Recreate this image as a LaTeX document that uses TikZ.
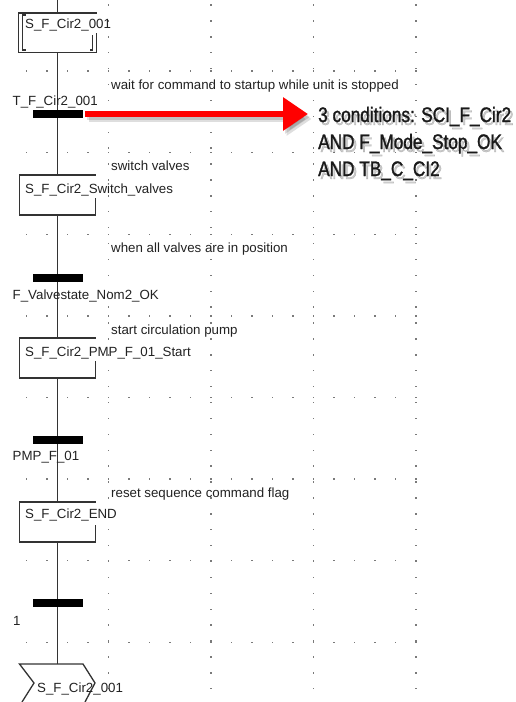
\documentclass[tikz,border=0pt]{standalone}
\usepackage{fontspec}
\setmainfont{Liberation Sans}
\newfontfamily\narrowfont[FakeStretch=0.82,FakeBold=1.3]{Liberation Sans}
\usetikzlibrary{arrows.meta}
\definecolor{linec}{HTML}{333333}
\definecolor{txtc}{HTML}{222222}
\definecolor{dotc}{HTML}{7A7A7A}
\definecolor{arrred}{HTML}{FF0000}
\begin{document}
\begin{tikzpicture}[x=1pt,y=-1pt,
  flow/.style={draw=linec, line width=1.4pt},
  boxline/.style={draw=linec, line width=1.3pt},
  stepbox/.style={draw=none, minimum width=76pt, minimum height=40pt, inner sep=0pt, outer sep=0pt},
  bar/.style={fill=black, minimum width=50pt, minimum height=7.5pt, inner sep=0pt, outer sep=0pt},
  lbl/.style={font=\fontsize{13.3}{15}\selectfont, text=txtc, inner sep=0pt, anchor=base west},
  bigtxt/.style={font=\narrowfont\fontsize{21}{27}\selectfont, text=black!90, inner sep=0pt, anchor=base west},
  bigshadow/.style={bigtxt, text=black, opacity=0.2},
  redarr/.style={draw=arrred, line width=6.5pt, -{Triangle[length=25pt,width=32pt]}},
  shadowarr/.style={draw=black, opacity=0.13, line width=6.5pt, -{Triangle[length=25pt,width=32pt]}}
]
\useasboundingbox (0,0) rectangle (516,702);
\fill[white] (0,0) rectangle (516,702);

% dot grid
\foreach \r in {0,...,7}
  \foreach \c in {0,...,19}
    \fill[dotc] ({26.5+20.5*\c-0.7},{71+81.6*\r-0.7}) rectangle ++(1.4,1.4);
\foreach \c in {108.5,211,313.5,416}
  \foreach \k in {0,...,43}
    \fill[dotc] ({\c-0.7},{5+15.9*\k-0.7}) rectangle ++(1.4,1.4);

% steps
\node[stepbox, minimum width=78pt, minimum height=39.5pt] (s1) at (57.5,32.75) {};
\node[stepbox] (s2) at (57.5,195) {};
\node[stepbox] (s3) at (57.5,358) {};
\node[stepbox] (s4) at (57.5,522) {};

% transitions
\node[bar] (t1) at (57.5,114) {};
\node[bar] (t2) at (57.5,278) {};
\node[bar] (t3) at (57.5,440) {};
\node[bar] (t4) at (57.5,603) {};

\coordinate (top) at (57.5,0);
\coordinate (jtop) at (57.5,664);

% step outlines
\draw[boxline] (s1.north east) -- (s1.north west) -- (s1.south west) -- (s1.south east) -- ++(0,-19.5);
\draw[boxline] ([shift={(7,2)}]s1.north west) -- ([shift={(4,2)}]s1.north west) -- ([shift={(4,-2.5)}]s1.south west) -- ([shift={(7,-2.5)}]s1.south west);
\draw[boxline] ([shift={(-4,-17.5)}]s1.south east) -- ([shift={(-4,-2.5)}]s1.south east) -- ([shift={(-7,-2.5)}]s1.south east);
\draw[boxline] (s2.north east) -- (s2.north west) -- (s2.south west) -- (s2.south east) -- ++(0,-17);
\draw[boxline] (s3.north east) -- (s3.north west) -- (s3.south west) -- (s3.south east) -- ++(0,-17);
\draw[boxline] (s4.north east) -- (s4.north west) -- (s4.south west) -- (s4.south east) -- ++(0,-17);

% main flow
\draw[flow] (top) -- (s1.north);
\draw[flow] (s1.south) -- (t1) -- (s2.north);
\draw[flow] (s2.south) -- (t2) -- (s3.north);
\draw[flow] (s3.south) -- (t3) -- (s4.north);
\draw[flow] (s4.south) -- (t4) -- (jtop);

% jump symbol
\draw[boxline] (22,702) -- (34,683) -- (19.5,664) -- (jtop) -- (83,664) -- (95,683) -- (85,702);

% redraw bars on top
\foreach \t in {t1,t2,t3,t4} \fill[black] (\t.north west) rectangle (\t.south east);

% labels
\node[lbl] (s1t) at (25,28) {S\_F\_Cir2\_001};
\node[lbl] (t1t) at (12.5,105) {T\_F\_Cir2\_001};
\node[lbl] (c1) at (111,89) {wait for command to startup while unit is stopped};
\node[lbl] (c2) at (111,170) {switch valves};
\node[lbl] (s2t) at (25,193) {S\_F\_Cir2\_Switch\_valves};
\node[lbl] (c3) at (111,252) {when all valves are in position};
\node[lbl] (t2t) at (12.5,299) {F\_Valvestate\_Nom2\_OK};
\node[lbl] (c4) at (111,334) {start circulation pump};
\node[lbl] (s3t) at (25,356) {S\_F\_Cir2\_PMP\_F\_01\_Start};
\node[lbl] (t3t) at (12.5,460) {PMP\_F\_01};
\node[lbl] (c5) at (111,497) {reset sequence command flag};
\node[lbl] (s4t) at (25,518) {S\_F\_Cir2\_END};
\node[lbl] (t4t) at (13,625) {1};
\node[lbl] (jt) at (37,692) {S\_F\_Cir2\_001};

% red arrow with shadow
\coordinate (atip) at (308,114);
\draw[shadowarr, transform canvas={shift={(2pt,-3pt)}}] ([xshift=2.5pt]t1.east) -- (atip);
\draw[shadowarr, transform canvas={shift={(3.5pt,-5pt)}}] ([xshift=2.5pt]t1.east) -- (atip);
\draw[redarr] ([xshift=2.5pt]t1.east) -- (atip);

% condition text with shadow
\node[bigshadow] (cs1) at (320.5,125) {3 conditions: SCI\_F\_Cir2};
\node[bigshadow] (cs2) at (320.5,152) {AND F\_Mode\_Stop\_OK};
\node[bigshadow] (cs3) at (320.5,179) {AND TB\_C\_CI2};
\node[bigtxt] (cond1) at (318,122) {3 conditions: SCI\_F\_Cir2};
\node[bigtxt] (cond2) at (318,149) {AND F\_Mode\_Stop\_OK};
\node[bigtxt] (cond3) at (318,176) {AND TB\_C\_CI2};
\end{tikzpicture}
\end{document}
